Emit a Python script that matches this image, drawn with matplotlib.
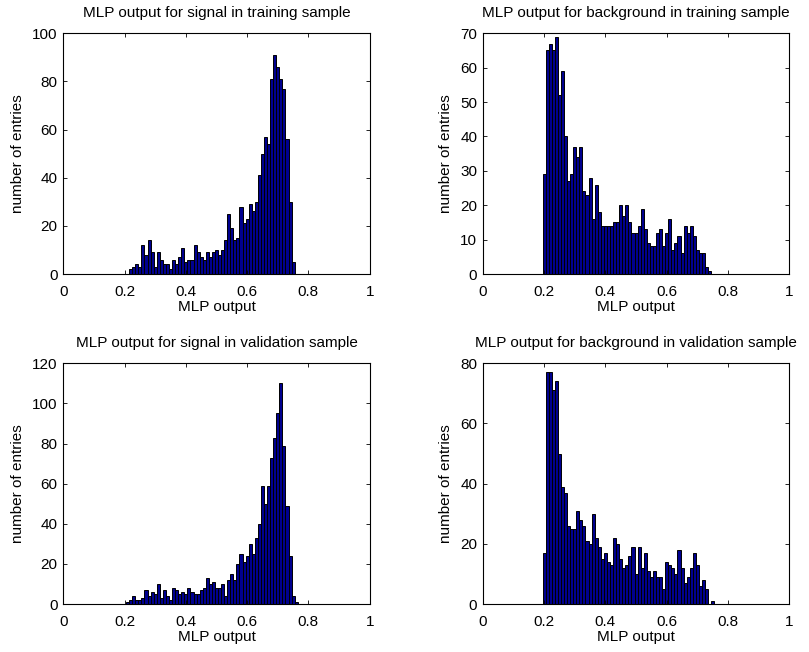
import numpy as np
import matplotlib
matplotlib.use("Agg")
import matplotlib.pyplot as plt

plt.rcParams['font.family'] = ['Liberation Sans', 'DejaVu Sans']

# bin centres start (first non-empty bin) and counts, bin width 0.01
sig_train_start = 0.22
sig_train = [2, 3, 4, 3, 12, 8, 14, 9, 3, 9, 6, 4, 4, 2, 6, 4, 7, 11, 5, 6,
             6, 12, 9, 7, 6, 9, 7, 9, 10, 8, 10, 14, 25, 19, 14, 15, 28, 21, 23, 29,
             26, 30, 41, 50, 57, 54, 81, 91, 86, 81, 77, 56, 30, 5]

bkg_train_start = 0.20
bkg_train = [29, 65, 67, 65, 69, 52, 59, 40, 27, 29, 37, 34, 37, 24, 23, 28, 16, 26, 18, 14,
             14, 14, 14, 15, 15, 20, 17, 20, 15, 12, 12, 14, 19, 13, 9, 8, 8, 12, 13, 8,
             12, 16, 7, 9, 11, 6, 14, 12, 14, 11, 7, 6, 6, 2, 1]

sig_valid_start = 0.21
sig_valid = [1, 2, 4, 2, 2, 3, 7, 4, 6, 5, 10, 3, 7, 4, 2, 8, 7, 5, 6, 5,
             8, 6, 5, 5, 7, 8, 13, 10, 11, 8, 8, 10, 4, 12, 15, 12, 20, 25, 21, 24,
             30, 25, 33, 40, 59, 50, 59, 73, 83, 95, 110, 79, 49, 24, 4, 1]

bkg_valid_start = 0.20
bkg_valid = [17, 77, 77, 71, 74, 50, 39, 37, 26, 25, 25, 31, 28, 26, 21, 20, 30, 22, 19, 15,
             17, 14, 13, 22, 20, 15, 12, 13, 16, 19, 10, 19, 12, 17, 11, 9, 11, 9, 9, 5,
             14, 13, 12, 10, 18, 12, 7, 9, 12, 17, 13, 6, 8, 5, 0, 1]

titles = ["MLP output for signal in training sample",
          "MLP output for background in training sample",
          "MLP output for signal in validation sample",
          "MLP output for background in validation sample"]
y_limits = [100, 70, 120, 80]
y_steps = [20, 10, 20, 20]
x_ticks = [0, 0.2, 0.4, 0.6, 0.8, 1]
x_ticklabels = ["0", "0.2", "0.4", "0.6", "0.8", "1"]
xlabel = "MLP output"
ylabel = "number of entries"

W, H = 809, 652
fig = plt.figure(figsize=(W / 100, H / 100), dpi=100)

boxes = [(63.3, 33.3, 369.7, 274.0), (482.7, 33.3, 789.4, 274.0),
         (63.3, 363.3, 369.7, 604.0), (482.7, 363.3, 789.4, 604.0)]
data = [(sig_train_start, sig_train), (bkg_train_start, bkg_train),
        (sig_valid_start, sig_valid), (bkg_valid_start, bkg_valid)]

width = 0.01
for (x0, y0, x1, y1), (start, counts), title, ylim, ystep in zip(boxes, data, titles, y_limits, y_steps):
    ax = fig.add_axes([x0 / W, 1 - y1 / H, (x1 - x0) / W, (y1 - y0) / H])
    centers = start + width * np.arange(len(counts))
    ax.bar(centers, counts, width=width, color=(0, 0, 0.56), edgecolor='black',
           linewidth=0.7, align='center')
    ax.set_xlim(0, 1)
    ax.set_ylim(0, ylim)
    ax.set_xticks(x_ticks)
    ax.set_xticklabels(x_ticklabels)
    ax.set_yticks(np.arange(0, ylim + 1, ystep))
    ax.tick_params(direction='in', length=3, width=0.6, top=True, right=True,
                   labelsize=11)
    ax.tick_params(axis='x', pad=8)
    ax.tick_params(axis='y', pad=4)
    for s in ax.spines.values():
        s.set_linewidth(0.8)
    ax.set_title(title, fontsize=11, pad=11.5)
    ax.set_xlabel(xlabel, fontsize=11, labelpad=1)
    ax.set_ylabel(ylabel, fontsize=11, labelpad=5)

fig.savefig("out.png", dpi=100)
